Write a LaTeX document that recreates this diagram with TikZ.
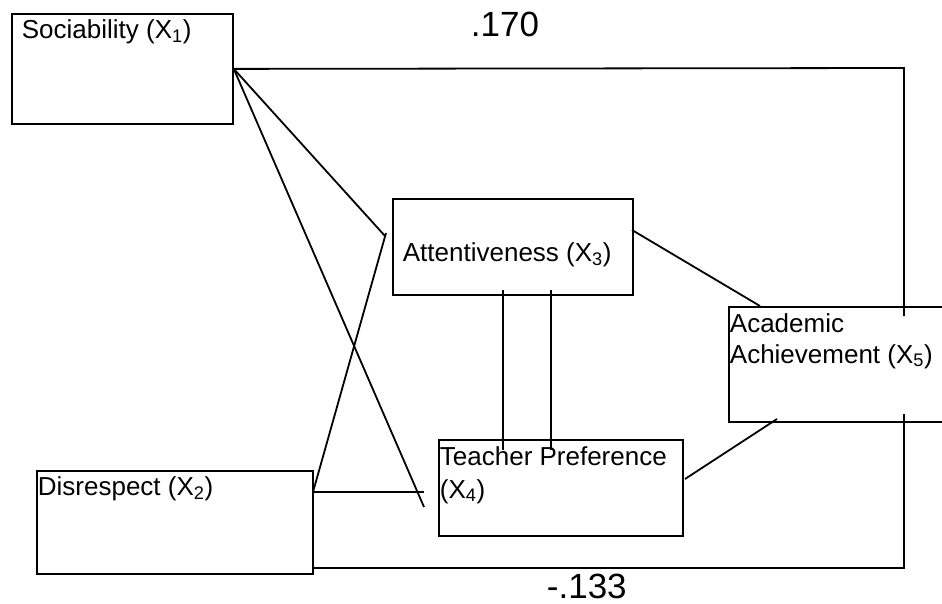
\documentclass[tikz,border=0pt]{standalone}
\usepackage{fontspec}
\setmainfont{Liberation Sans}
\tikzset{
  box/.style={draw, rectangle, inner sep=0pt, anchor=north west},
  boxtext/.style={inner sep=0pt, anchor=base west, font=\fontsize{26}{31}\selectfont},
  coef/.style={inner sep=0pt, anchor=base west, font=\fontsize{35}{40}\selectfont},
}
\begin{document}
\begin{tikzpicture}[x=1pt, y=-1pt, line width=1.8pt]
  \useasboundingbox (0,0) rectangle (942,604);
  \clip (0,0) rectangle (942,604);

  % the five boxes
  \node[box, minimum width=221, minimum height=110] (soc) at (11,13) {};
  \node[boxtext] (socname) at (21,39) {Sociability (X\textsubscript{1})};

  \node[box, minimum width=276, minimum height=103] (dis) at (36,470) {};
  \node[boxtext] (disname) at (37,495) {Disrespect (X\textsubscript{2})};

  \node[box, minimum width=240, minimum height=96] (att) at (392,198) {};
  \node[boxtext] (attname) at (402,261) {Attentiveness (X\textsubscript{3})};

  \node[box, minimum width=244, minimum height=96] (tpref) at (438,439) {};
  \node[boxtext] (tprefname) at (439,465) {Teacher Preference};
  \node[boxtext] (tprefsub) at (439,498) {(X\textsubscript{4})};

  \node[box, minimum width=240, minimum height=115] (acad) at (728,306) {};
  \node[boxtext] (acadname) at (729,332) {Academic};
  \node[boxtext] (acadsub) at (729,363) {Achievement (X\textsubscript{5})};

  % path coefficients
  \node[coef] (r15) at (470,37) {.170};
  \node[coef] (r25) at (546,598) {-.133};

  % loose ends
  \coordinate (topc) at (904,68);
  \coordinate (botc) at (904,568);
  \coordinate (acadin) at (904,316);
  \coordinate (acadout) at (904,414);
  \coordinate (socatt) at (385,236);
  \coordinate (soctp) at (424,507);
  \coordinate (disup) at (313,492);
  \coordinate (disatt) at (386,233);
  \coordinate (distp) at (424,492);
  \coordinate (dislow) at (312,568);
  \coordinate (attout) at (632,230);
  \coordinate (acadtop) at (760,306);
  \coordinate (tpout) at (685,479);
  \coordinate (acadbot) at (777,419);
  \coordinate (a1) at (503,290);
  \coordinate (a2) at (551,290);
  \coordinate (t1) at (503,450);
  \coordinate (t2) at (551,450);

  \draw (soc.east) -- (topc) -- (acadin);
  \draw (soc.east) -- (socatt);
  \draw (soc.east) -- (soctp);
  \draw (disup) -- (disatt);
  \draw (disup) -- (distp);
  \draw (dislow) -- (botc) -- (acadout);
  \draw (attout) -- (acadtop);
  \draw (a1) -- (t1);
  \draw (a2) -- (t2);
  \draw (tpout) -- (acadbot);
\end{tikzpicture}
\end{document}
